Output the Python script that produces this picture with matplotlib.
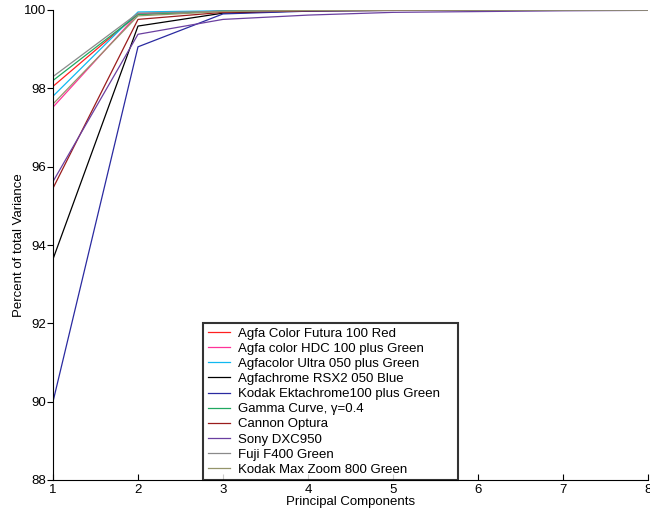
import matplotlib
matplotlib.use("Agg")
import matplotlib.pyplot as plt

components = [1, 2, 3, 4, 5, 6, 7, 8]

names = [
    "Agfa Color Futura 100 Red",
    "Agfa color HDC 100 plus Green",
    "Agfacolor Ultra 050 plus Green",
    "Agfachrome RSX2 050 Blue",
    "Kodak Ektachrome100 plus Green",
    "Gamma Curve, γ=0.4",
    "Cannon Optura",
    "Sony DXC950",
    "Fuji F400 Green",
    "Kodak Max Zoom 800 Green",
]

agfa_futura = [98.05, 99.90, 99.97, 99.99, 100.0, 100.0, 100.0, 100.0]
agfa_hdc = [97.52, 99.90, 99.97, 99.99, 100.0, 100.0, 100.0, 100.0]
agfa_ultra = [97.80, 99.95, 99.98, 99.99, 100.0, 100.0, 100.0, 100.0]
agfachrome = [93.64, 99.59, 99.92, 99.98, 99.99, 100.0, 100.0, 100.0]
kodak_ekta = [90.00, 99.06, 99.90, 99.97, 99.99, 100.0, 100.0, 100.0]
gamma_curve = [98.20, 99.88, 99.97, 99.99, 100.0, 100.0, 100.0, 100.0]
cannon = [95.45, 99.76, 99.94, 99.98, 99.99, 100.0, 100.0, 100.0]
sony = [95.62, 99.38, 99.76, 99.87, 99.94, 99.96, 99.98, 99.99]
fuji = [98.30, 99.92, 99.97, 99.99, 100.0, 100.0, 100.0, 100.0]
kodak_max = [97.60, 99.85, 99.96, 99.99, 100.0, 100.0, 100.0, 100.0]

series = [agfa_futura, agfa_hdc, agfa_ultra, agfachrome, kodak_ekta,
          gamma_curve, cannon, sony, fuji, kodak_max]
colors = ["#ff2020", "#ff3399", "#10b8f0", "#000000", "#2a2aa0",
          "#20a860", "#9a1c1c", "#6a3fa0", "#8a8a8a", "#94946a"]

yticks = [88, 90, 92, 94, 96, 98, 100]

plt.rcParams['font.family'] = ['Liberation Sans', 'DejaVu Sans']

fig = plt.figure(figsize=(6.5, 5.2), dpi=100)
ax = fig.add_axes([53/650, 1 - 480/520, (648 - 53)/650, (480 - 10)/520])

for vals, name, c in zip(series, names, colors):
    ax.plot(components, vals, color=c, lw=0.9, label=name)

ax.set_xlim(1, 8)
ax.set_ylim(88, 100)
ax.set_xticks(components)
ax.set_yticks(yticks)
ax.spines['top'].set_visible(False)
ax.spines['right'].set_visible(False)
ax.tick_params(axis='x', direction='in', length=4, labelsize=9.5, pad=3)
ax.tick_params(axis='y', direction='out', length=4, labelsize=9.5, pad=1)
ax.set_xlabel("Principal Components", fontsize=9.5, labelpad=0)
ax.set_ylabel("Percent of total Variance", fontsize=9.5, labelpad=-1)

leg = ax.legend(loc='lower left',
                bbox_to_anchor=((203 - 53)/595, -0.001, (458 - 203)/595, (480 - 322)/470),
                mode='expand', fontsize=9.5, frameon=True, fancybox=False,
                edgecolor='black', handlelength=1.7, handletextpad=0.6,
                borderpad=0.35, labelspacing=0.22, borderaxespad=0)
leg.get_frame().set_linewidth(1.5)

fig.savefig("out.png", dpi=100)
